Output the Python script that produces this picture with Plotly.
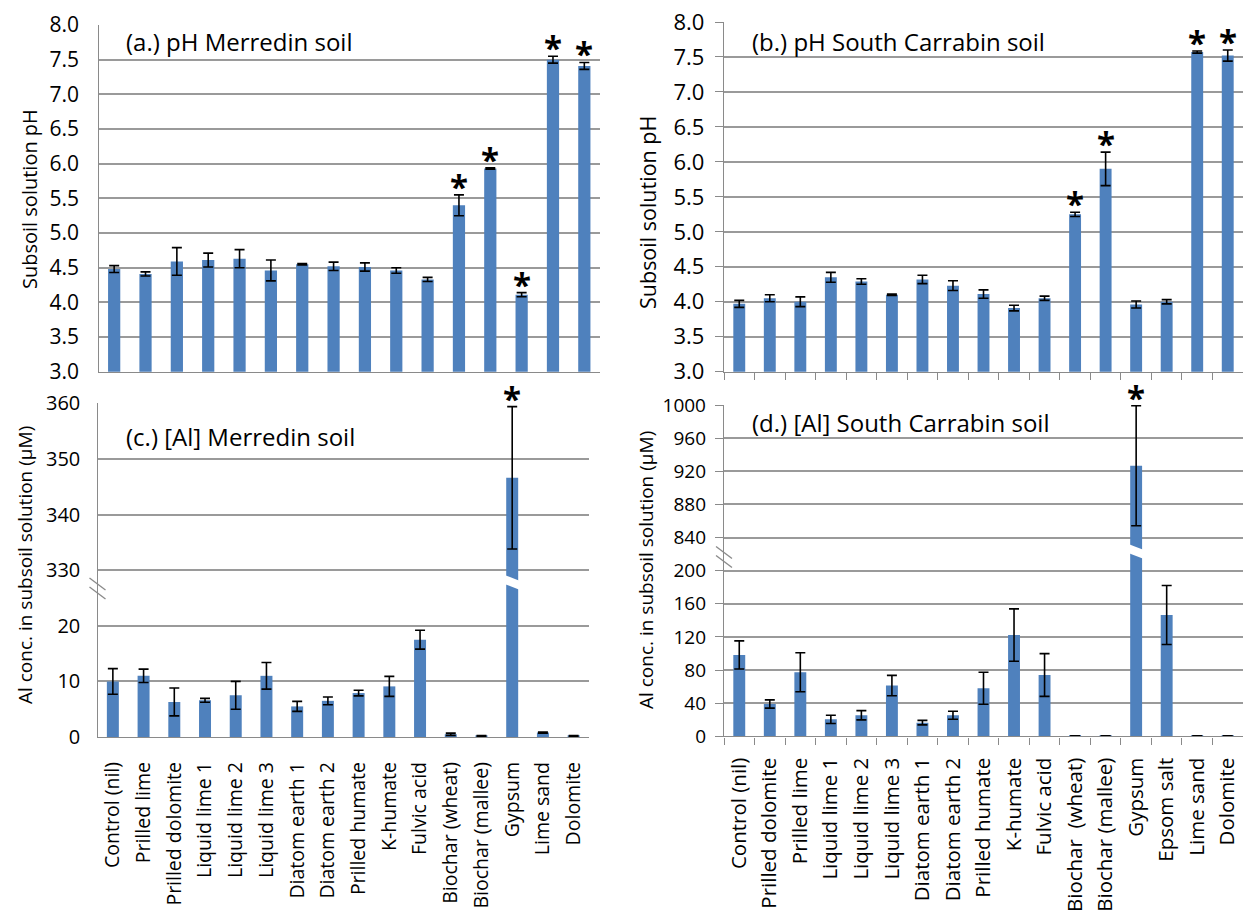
import plotly.graph_objects as go

W, H = 1243, 913
FONT = "Open Sans"
BAR = "#4F81BD"
GRID = "#9a9a9a"
AXIS = "#8a8a8a"

# ---------------- data ----------------
merredin_cats = ["Control (nil)", "Prilled lime", "Prilled dolomite", "Liquid lime 1",
                 "Liquid lime 2", "Liquid lime 3", "Diatom earth 1", "Diatom earth 2",
                 "Prilled humate", "K-humate", "Fulvic acid", "Biochar (wheat)",
                 "Biochar (mallee)", "Gypsum", "Lime sand", "Dolomite"]
carrabin_cats = ["Control (nil)", "Prilled dolomite", "Prilled lime", "Liquid lime 1",
                 "Liquid lime 2", "Liquid lime 3", "Diatom earth 1", "Diatom earth 2",
                 "Prilled humate", "K-humate", "Fulvic acid", "Biochar  (wheat)",
                 "Biochar (mallee)", "Gypsum", "Epsom salt", "Lime sand", "Dolomite"]

ph_merredin = [4.48, 4.41, 4.59, 4.61, 4.63, 4.46, 4.55, 4.52, 4.51, 4.46, 4.33,
               5.40, 5.93, 4.11, 7.50, 7.41]
ph_merredin_err = [0.05, 0.03, 0.20, 0.10, 0.13, 0.15, 0.01, 0.06, 0.06, 0.04, 0.03,
                   0.15, 0.01, 0.03, 0.05, 0.05]
ph_merredin_sig = ["Biochar (wheat)", "Biochar (mallee)", "Gypsum", "Lime sand", "Dolomite"]

ph_carrabin = [3.97, 4.05, 4.00, 4.35, 4.29, 4.10, 4.32, 4.23, 4.11, 3.91, 4.05,
               5.25, 5.90, 3.96, 4.00, 7.57, 7.52]
ph_carrabin_err = [0.05, 0.05, 0.07, 0.07, 0.04, 0.01, 0.06, 0.07, 0.06, 0.04, 0.03,
                   0.03, 0.24, 0.05, 0.03, 0.015, 0.08]
ph_carrabin_sig = ["Biochar  (wheat)", "Biochar (mallee)", "Lime sand", "Dolomite"]

al_merredin = [10.0, 11.0, 6.3, 6.6, 7.5, 11.0, 5.5, 6.5, 7.9, 9.1, 17.5,
               0.5, 0.2, 346.6, 0.8, 0.2]
al_merredin_err = [2.3, 1.2, 2.5, 0.35, 2.5, 2.4, 0.9, 0.7, 0.5, 1.8, 1.7,
                   0.2, 0.05, 12.8, 0.1, 0.05]
al_merredin_sig = ["Gypsum"]

al_carrabin = [98.2, 39.0, 77.3, 20.5, 25.4, 61.2, 16.5, 25.4, 58.0, 122.3, 74.0,
               0.5, 0.5, 926.8, 146.5, 0.5, 0.5]
al_carrabin_err = [17.0, 5.0, 23.5, 5.0, 5.6, 12.3, 2.7, 4.8, 19.3, 31.6, 25.8,
                   0.2, 0.2, 72.5, 35.6, 0.2, 0.2]
al_carrabin_sig = ["Gypsum"]

ph_ticks = [3.0, 3.5, 4.0, 4.5, 5.0, 5.5, 6.0, 6.5, 7.0, 7.5, 8.0]
al_merredin_ticks = [0, 10, 20, 330, 340, 350, 360]
al_carrabin_ticks = [0, 40, 80, 120, 160, 200, 840, 880, 920, 960, 1000]

# broken-axis settings: values above `cut` are shifted down by `shift`
AL_M_CUT, AL_M_SHIFT = 25, 300
AL_C_CUT, AL_C_SHIFT = 220, 600


def squeeze(v, cut, shift):
    return v - shift if v > cut else v


def px_x(p):
    return p / W


def px_y(p):
    return 1 - p / H


fig = go.Figure()


def add_bars(cats, vals, errs, xa, ya):
    fig.add_trace(go.Bar(
        x=cats, y=vals, xaxis=xa, yaxis=ya, marker_color=BAR, marker_line_width=0,
        error_y=dict(type="data", array=errs, visible=True, color="black",
                     thickness=1.6, width=5),
        showlegend=False))


def add_stars(cats, vals, errs, sig, xa, ya, shift=-16):
    for c in sig:
        i = cats.index(c)
        fig.add_annotation(x=c, y=vals[i] + errs[i], xref=xa, yref=ya, text="<b>*</b>",
                           showarrow=False, yanchor="bottom", yshift=shift,
                           font=dict(family=FONT, size=33, color="black"))


# (a) pH Merredin
add_bars(merredin_cats, ph_merredin, ph_merredin_err, "x", "y")
add_stars(merredin_cats, ph_merredin, ph_merredin_err, ph_merredin_sig, "x", "y")

# (b) pH South Carrabin
add_bars(carrabin_cats, ph_carrabin, ph_carrabin_err, "x2", "y2")
add_stars(carrabin_cats, ph_carrabin, ph_carrabin_err, ph_carrabin_sig, "x2", "y2")

# (c) Al Merredin (broken axis)
al_m_plot = [squeeze(v, AL_M_CUT, AL_M_SHIFT) for v in al_merredin]
add_bars(merredin_cats, al_m_plot, al_merredin_err, "x3", "y3")
add_stars(merredin_cats, al_m_plot, al_merredin_err, al_merredin_sig, "x3", "y3")

# (d) Al South Carrabin (broken axis)
al_c_plot = [squeeze(v, AL_C_CUT, AL_C_SHIFT) for v in al_carrabin]
add_bars(carrabin_cats, al_c_plot, al_carrabin_err, "x4", "y4")
add_stars(carrabin_cats, al_c_plot, al_carrabin_err, al_carrabin_sig, "x4", "y4")


# ---------------- axes ----------------
def xaxis(domain, anchor, labels, ticks, rng, size=19.5):
    return dict(domain=domain, anchor=anchor, type="category", range=rng,
                automargin=False,
                showline=True, linecolor=AXIS, linewidth=1.4, showgrid=False,
                showticklabels=labels, tickangle=-90,
                tickfont=dict(family=FONT, size=size, color="black"),
                ticks="outside" if ticks else "", tickson="boundaries",
                ticklen=7, tickcolor=AXIS, tickwidth=1.4,
                ticklabelstandoff=(12 if ticks else 16) if labels else 0)


def yaxis(domain, anchor, rng, tickvals, ticktext, ticks, size, standoff):
    return dict(domain=domain, anchor=anchor, range=rng, tickvals=tickvals,
                automargin=False,
                ticktext=ticktext, showline=True, linecolor=AXIS, linewidth=1.4,
                showgrid=True, gridcolor=GRID, gridwidth=1.5, zeroline=False,
                ticks="outside" if ticks else "", ticklen=8, tickcolor=AXIS, tickwidth=1.4,
                tickfont=dict(family=FONT, size=size, color="black"),
                ticklabelstandoff=standoff)


ya_dom = [px_y(371.7), px_y(25)]
yb_dom = [px_y(371.7), px_y(22)]
yc_dom = [px_y(737), px_y(403.3)]
yd_dom = [px_y(736.3), px_y(405)]
right_x0 = 724

fig.update_layout(
    width=W, height=H, margin=dict(l=0, r=0, t=0, b=0, autoexpand=False),
    paper_bgcolor="white", plot_bgcolor="white", bargap=0.61,
    font=dict(family=FONT, color="black"),
    xaxis=xaxis([px_x(98.5), px_x(600)], "y", False, False, [-0.5, 15.5]),
    yaxis=yaxis(ya_dom, "x", [3, 8], ph_ticks, [f"{t:.1f}" for t in ph_ticks], False, 21, 14),
    xaxis2=xaxis([px_x(right_x0), 1.0], "y2", False, True, [-0.5, 16.5]),
    yaxis2=yaxis(yb_dom, "x2", [3, 8], ph_ticks, [f"{t:.1f}" for t in ph_ticks], True, 22, 6),
    xaxis3=xaxis([px_x(97.5), px_x(589)], "y3", True, False, [-0.5, 15.5], 19.5),
    yaxis3=yaxis(yc_dom, "x3", [0, squeeze(360, AL_M_CUT, AL_M_SHIFT)],
                 [squeeze(t, AL_M_CUT, AL_M_SHIFT) for t in al_merredin_ticks],
                 [str(t) for t in al_merredin_ticks], False, 20, 12),
    xaxis4=xaxis([px_x(right_x0), 1.0], "y4", True, True, [-0.5, 16.5], 20.5),
    yaxis4=yaxis(yd_dom, "x4", [0, squeeze(1000, AL_C_CUT, AL_C_SHIFT)],
                 [squeeze(t, AL_C_CUT, AL_C_SHIFT) for t in al_carrabin_ticks],
                 [str(t) for t in al_carrabin_ticks], True, 19, 5),
)

# ---------------- panel titles ----------------
titles = [("(a.) pH Merredin soil", 124, 42),
          ("(b.) pH South Carrabin soil", 750, 41),
          ("(c.) [Al] Merredin soil", 124, 436),
          ("(d.) [Al] South Carrabin soil", 750, 422)]
for txt, x, y in titles:
    fig.add_annotation(x=px_x(x), y=px_y(y), xref="paper", yref="paper", text=txt,
                       showarrow=False, xanchor="left", yanchor="middle",
                       font=dict(family=FONT, size=24, color="black"))

# ---------------- y-axis titles ----------------
ytitles = [("Subsoil solution pH", 29, 199, 20),
           ("Subsoil solution pH", 648, 213, 21.5),
           ("Al conc. in subsoil solution (μM)", 25, 565, 19),
           ("Al conc. in subsoil solution (μM)", 646, 570, 19)]
for txt, x, y, s in ytitles:
    fig.add_annotation(x=px_x(x), y=px_y(y), xref="paper", yref="paper", text=txt,
                       showarrow=False, textangle=-90, xanchor="center", yanchor="middle",
                       font=dict(family=FONT, size=s, color="black"))


# ---------------- axis breaks ----------------
def break_marks(x_axis_px, ya, level, unit_px):
    # two short slanted strokes across the y axis
    for off in (0, 9):
        y0 = level + (6 - off) / unit_px
        y1 = level + (-6 - off) / unit_px
        fig.add_shape(type="line", xref="paper", yref=ya,
                      x0=px_x(x_axis_px - 8), x1=px_x(x_axis_px + 8), y0=y0, y1=y1,
                      line=dict(color=AXIS, width=1.3))


def bar_gap(cat_index, xa, ya, level, unit_px):
    # white slanted band cutting the tall bar
    half_h = 4.5 / unit_px
    slant = 3.5 / unit_px
    x0, x1 = cat_index - 0.3, cat_index + 0.3
    path = (f"M {x0},{level + half_h + slant} L {x1},{level + half_h - slant} "
            f"L {x1},{level - half_h - slant} L {x0},{level - half_h + slant} Z")
    fig.add_shape(type="path", xref=xa, yref=ya, path=path,
                  fillcolor="white", line=dict(width=0), layer="above")


unit_c = (737 - 403.3) / 60
unit_d = (736.3 - 405) / 400
break_marks(97.5, "y3", 27.5, unit_c)
break_marks(right_x0, "y4", 222, unit_d)
bar_gap(merredin_cats.index("Gypsum"), "x3", "y3", 27.8, unit_c)
bar_gap(carrabin_cats.index("Gypsum"), "x4", "y4", 223, unit_d)

fig.write_html("out.html")
